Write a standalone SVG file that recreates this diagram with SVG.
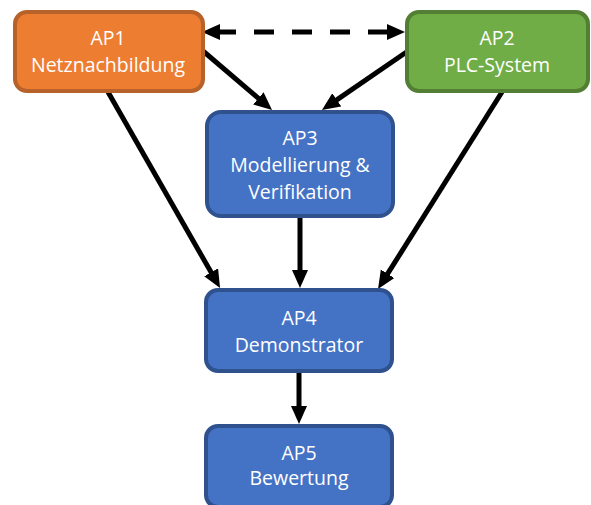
<svg xmlns="http://www.w3.org/2000/svg" width="591" height="505" viewBox="0 0 591 505">
  <style>
    .box { stroke-width: 4; }
    .orange { fill: #ED7D31; stroke: #B7622A; }
    .green { fill: #70AD47; stroke: #527F34; }
    .blue { fill: #4472C4; stroke: #2F528F; }
    .lbl { font-family: "Open Sans", "Liberation Sans", sans-serif; font-size: 19.5px; fill: #FFFFFF; text-anchor: middle; }
    .edge { stroke: #000000; stroke-width: 5; fill: none; }
    .dash { stroke-dasharray: 20 18; }
  </style>
  <defs>
    <!-- triangular head; tip sits 14px past the line end -->
    <marker id="head" markerUnits="userSpaceOnUse" markerWidth="20" markerHeight="18" refX="4" refY="8" orient="auto-start-reverse">
      <path d="M0,0 L18,8 L0,16 Z" fill="#000000"/>
    </marker>
  </defs>

  <g id="connectors">
    <line class="edge dash" x1="216" y1="32" x2="391" y2="32" marker-start="url(#head)" marker-end="url(#head)"/>
    <line class="edge" x1="203" y1="51" x2="261.4" y2="100.9" marker-end="url(#head)"/>
    <line class="edge" x1="408" y1="51" x2="333.5" y2="102.1" marker-end="url(#head)"/>
    <line class="edge" x1="108" y1="92" x2="213.1" y2="275.8" marker-end="url(#head)"/>
    <line class="edge" x1="300" y1="218" x2="300" y2="274" marker-end="url(#head)"/>
    <line class="edge" x1="502" y1="92" x2="385.5" y2="277.2" marker-end="url(#head)"/>
    <line class="edge" x1="299" y1="373" x2="299" y2="410" marker-end="url(#head)"/>
  </g>

  <g id="ap1">
    <rect class="box orange" x="15" y="12" width="188" height="79" rx="12"/>
    <text class="lbl" x="108" y="45">AP1</text>
    <text class="lbl" x="108" y="72">Netznachbildung</text>
  </g>

  <g id="ap2">
    <rect class="box green" x="407" y="12" width="181" height="79" rx="12"/>
    <text class="lbl" x="497" y="45">AP2</text>
    <text class="lbl" x="497" y="72">PLC-System</text>
  </g>

  <g id="ap3">
    <rect class="box blue" x="207" y="112" width="186" height="104" rx="14"/>
    <text class="lbl" x="300" y="145">AP3</text>
    <text class="lbl" x="300" y="172">Modellierung &amp;</text>
    <text class="lbl" x="300" y="199">Verifikation</text>
  </g>

  <g id="ap4">
    <rect class="box blue" x="206" y="290" width="186" height="81" rx="12"/>
    <text class="lbl" x="299" y="325">AP4</text>
    <text class="lbl" x="299" y="352">Demonstrator</text>
  </g>

  <g id="ap5">
    <rect class="box blue" x="206" y="426" width="186" height="81" rx="12"/>
    <text class="lbl" x="299" y="460">AP5</text>
    <text class="lbl" x="299" y="485">Bewertung</text>
  </g>
</svg>
